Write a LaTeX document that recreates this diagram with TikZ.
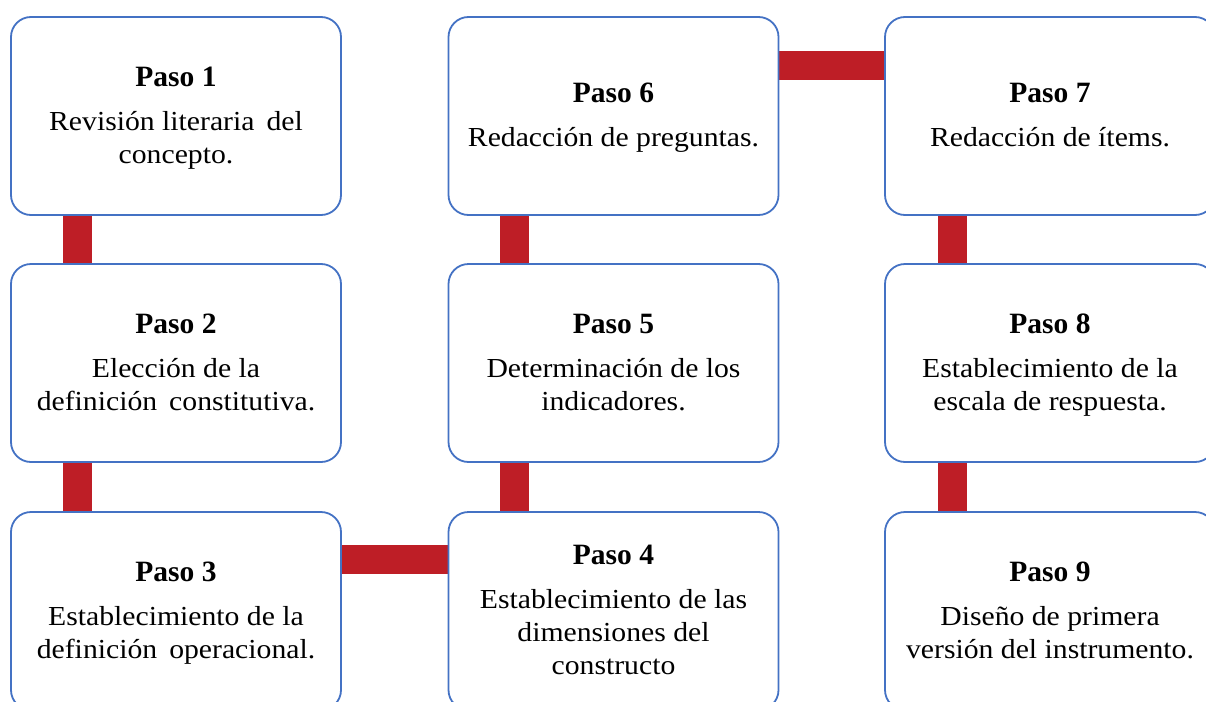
\documentclass[tikz,border=0pt]{standalone}
\usepackage{fontspec}
\setmainfont{Liberation Serif}
\newfontfamily\bodyfont[FakeStretch=1.08]{Liberation Serif}
\usetikzlibrary{backgrounds}
\definecolor{boxblue}{RGB}{68,114,196}
\definecolor{barred}{RGB}{190,30,38}
\tikzset{
  stepbox/.style={draw=boxblue, line width=1.8pt, fill=white, rounded corners=20pt,
    minimum width=330pt, minimum height=198pt, align=center, inner sep=0pt,
    font=\bodyfont\fontsize{27.5}{33}\selectfont},
  redbar/.style={draw=barred, line width=29pt}
}
\newcommand{\pasohead}[1]{\rule{0pt}{24pt}{\normalfont\fontsize{29.5}{33}\selectfont\bfseries Paso #1}\\[11pt]}
\newcommand{\lastdepth}{\rule[-7pt]{0pt}{7pt}}
\begin{document}
\begin{tikzpicture}[x=1pt,y=-1pt]
\useasboundingbox (0,0) rectangle (1206,701);
\node[stepbox] (p1) at (176,116) {\pasohead{1}Revisión literaria\, del\\concepto.\lastdepth};
\node[stepbox] (p2) at (176,363) {\pasohead{2}Elección de la\\definición\, constitutiva.\lastdepth};
\node[stepbox] (p3) at (176,611) {\pasohead{3}Establecimiento de la\\definición\, operacional.\lastdepth};
\node[stepbox] (p4) at (613.5,611) {\pasohead{4}Establecimiento de las\\dimensiones del\\constructo\lastdepth};
\node[stepbox] (p5) at (613.5,363) {\pasohead{5}Determinación de los\\indicadores.\lastdepth};
\node[stepbox] (p6) at (613.5,116) {\pasohead{6}Redacción de preguntas.\lastdepth};
\node[stepbox] (p7) at (1050,116) {\pasohead{7}Redacción de ítems.\lastdepth};
\node[stepbox] (p8) at (1050,363) {\pasohead{8}Establecimiento de la\\escala de respuesta.\lastdepth};
\node[stepbox] (p9) at (1050,611) {\pasohead{9}Diseño de primera\\versión del instrumento.\lastdepth};
\begin{scope}[on background layer]
\draw[redbar] ([xshift=67.5pt]p1.south west) -- ([xshift=67.5pt]p2.north west);
\draw[redbar] ([xshift=67.5pt]p2.south west) -- ([xshift=67.5pt]p3.north west);
\draw[redbar] ([yshift=-48pt]p3.north east) -- ([yshift=-48pt]p4.north west);
\draw[redbar] ([xshift=67pt]p4.north west) -- ([xshift=67pt]p5.south west);
\draw[redbar] ([xshift=67pt]p5.north west) -- ([xshift=67pt]p6.south west);
\draw[redbar] ([yshift=-49pt]p6.north east) -- ([yshift=-49pt]p7.north west);
\draw[redbar] ([xshift=68pt]p7.south west) -- ([xshift=68pt]p8.north west);
\draw[redbar] ([xshift=68pt]p8.south west) -- ([xshift=68pt]p9.north west);
\end{scope}
\end{tikzpicture}
\end{document}
